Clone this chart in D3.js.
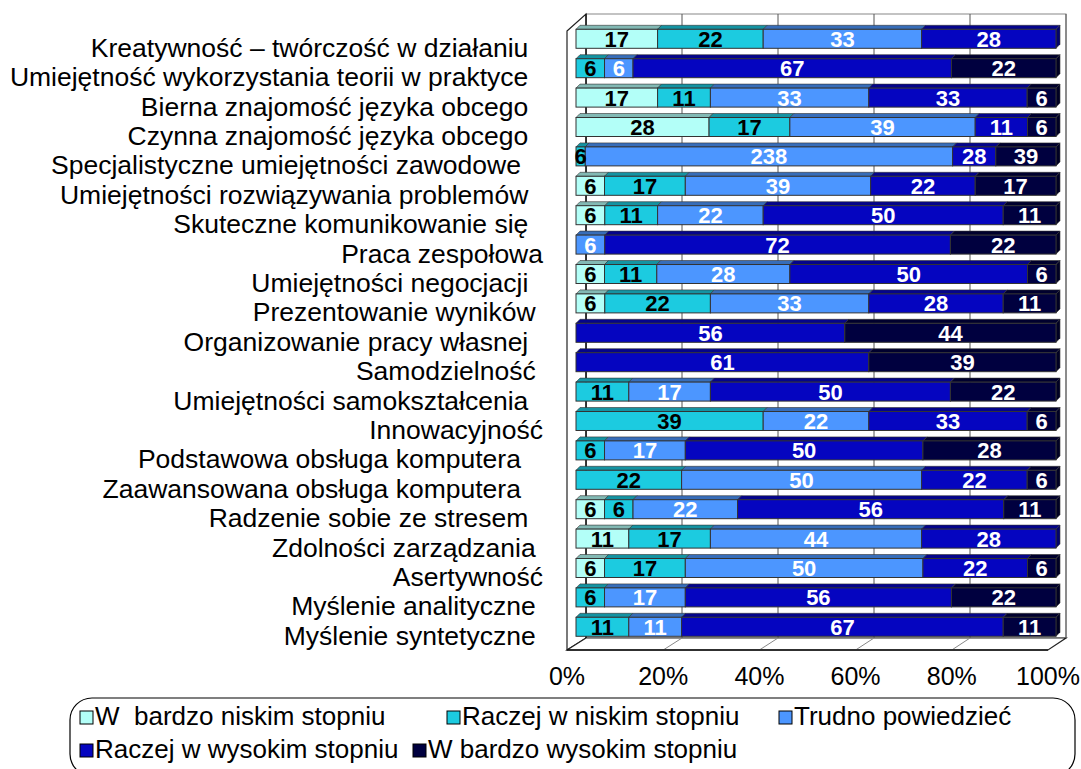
<!DOCTYPE html>
<html>
<head>
<meta charset="utf-8">
<script src="https://cdn.jsdelivr.net/npm/d3@7"></script>
<style>
  html, body { margin: 0; padding: 0; background: #fff; }
  svg { display: block; font-family: "Liberation Sans", Arial, sans-serif; }
  .cat { white-space: pre; }
</style>
</head>
<body>
<svg id="chart" width="1081" height="769"></svg>
<script>
// Skills, as written in the survey sheet (some names carry trailing spaces)
const categories = [
  "Kreatywność – twórczość w działaniu  ",
  "Umiejętność wykorzystania teorii w praktyce  ",
  "Bierna znajomość języka obcego  ",
  "Czynna znajomość języka obcego  ",
  "Specjalistyczne umiejętności zawodowe   ",
  "Umiejętności rozwiązywania problemów  ",
  "Skuteczne komunikowanie się  ",
  "Praca zespołowa",
  "Umiejętności negocjacji  ",
  "Prezentowanie wyników ",
  "Organizowanie pracy własnej  ",
  "Samodzielność ",
  "Umiejętności samokształcenia  ",
  "Innowacyjność",
  "Podstawowa obsługa komputera   ",
  "Zaawansowana obsługa komputera   ",
  "Radzenie sobie ze stresem  ",
  "Zdolności zarządzania ",
  "Asertywność",
  "Myślenie analityczne ",
  "Myślenie syntetyczne "
];

const seriesNames = [
  "W  bardzo niskim stopniu",
  "Raczej w niskim stopniu",
  "Trudno powiedzieć",
  "Raczej w wysokim stopniu",
  "W bardzo wysokim stopniu"
];

// Answers per skill, one array per answer level (same order as categories)
const veryLow  = [17, 0, 17, 28, 0, 6, 6, 0, 6, 6, 0, 0, 0, 0, 0, 0, 6, 11, 6, 0, 0];
const ratherLow = [22, 6, 11, 17, 6, 17, 11, 0, 11, 22, 0, 0, 11, 39, 6, 22, 6, 17, 17, 6, 11];
const hardToSay = [33, 6, 33, 39, 238, 39, 22, 6, 28, 33, 0, 0, 17, 22, 17, 50, 22, 44, 50, 17, 11];
const ratherHigh = [28, 67, 33, 11, 28, 22, 50, 72, 50, 28, 56, 61, 50, 33, 50, 22, 56, 28, 22, 56, 67];
const veryHigh = [0, 22, 6, 6, 39, 17, 11, 22, 6, 11, 44, 39, 22, 6, 28, 6, 11, 0, 6, 22, 11];

const tickLabels = ["0%", "20%", "40%", "60%", "80%", "100%"];

const fills  = ["#b3fff8", "#1ccbe0", "#4c96ff", "#0505c0", "#00003f"];
const labelColors = ["#000", "#000", "#fff", "#fff", "#fff"];

const seriesValues = [veryLow, ratherLow, hardToSay, ratherHigh, veryHigh];
const keys = d3.range(seriesNames.length);
const rows = categories.map((c, i) => {
  const r = { cat: c };
  keys.forEach(k => r[k] = seriesValues[k][i]);
  return r;
});

const stacked = d3.stack().keys(keys).offset(d3.stackOffsetExpand)(rows);

const svg = d3.select("#chart");

// 3D box: front floor edge, back wall and bar plane all share the same domain
const xFront = d3.scaleLinear().domain([0, 1]).range([567, 1048]);
const xBack  = d3.scaleLinear().domain([0, 1]).range([586, 1066]);
const xBar   = d3.scaleLinear().domain([0, 1]).range([576, 1056]);
const wallTop = 14, wallBottom = 638, floorFront = 650, leftWallTop = 31;
const depthX = 4, depthY = -4;

const y = d3.scaleBand().domain(categories).range([18.9, 646.7]).padding(0.354);

const ticks = d3.range(0, 1.0001, 0.2);

// back wall
svg.append("rect")
  .attr("x", xBack(0)).attr("y", wallTop)
  .attr("width", xBack(1) - xBack(0)).attr("height", wallBottom - wallTop)
  .attr("fill", "#fff").attr("stroke", "#888").attr("stroke-width", 1);

// left wall
svg.append("polygon")
  .attr("points", [[xFront(0), leftWallTop], [xBack(0), wallTop], [xBack(0), wallBottom], [xFront(0), floorFront]].join(" "))
  .attr("fill", "#fff").attr("stroke", "#222").attr("stroke-width", 1.2);

// floor
svg.append("polygon")
  .attr("points", [[xFront(0), floorFront], [xBack(0), wallBottom], [xBack(1), wallBottom], [xFront(1), floorFront]].join(" "))
  .attr("fill", "#fff").attr("stroke", "#222").attr("stroke-width", 1.2);

// gridlines on back wall and floor
svg.append("g").selectAll("line").data(ticks.slice(1)).join("line")
  .attr("x1", d => xBack(d)).attr("x2", d => xBack(d))
  .attr("y1", wallTop).attr("y2", wallBottom)
  .attr("stroke", "#555").attr("stroke-width", 1);
svg.append("g").selectAll("line").data(ticks.slice(1, -1)).join("line")
  .attr("x1", d => xFront(d)).attr("y1", floorFront)
  .attr("x2", d => xBack(d)).attr("y2", wallBottom)
  .attr("stroke", "#888").attr("stroke-width", 1);
svg.append("line")
  .attr("x1", xBack(0)).attr("x2", xBack(0)).attr("y1", wallTop).attr("y2", wallBottom)
  .attr("stroke", "#111").attr("stroke-width", 1.2);
svg.append("line")
  .attr("x1", xFront(0)).attr("x2", xFront(1)).attr("y1", floorFront).attr("y2", floorFront)
  .attr("stroke", "#111").attr("stroke-width", 1.5);

// bars
const shade = (c, k) => d3.color(c).darker(k).formatHex();
const bars = svg.append("g");
stacked.forEach((layer, k) => {
  layer.forEach((seg, i) => {
    const x0 = xBar(seg[0]), x1 = xBar(seg[1]);
    if (x1 - x0 <= 0) return;
    const yt = y(categories[i]), h = y.bandwidth();
    const g = bars.append("g");
    // top face
    g.append("polygon")
      .attr("points", [[x0, yt], [x0 + depthX, yt + depthY], [x1 + depthX, yt + depthY], [x1, yt]].join(" "))
      .attr("fill", shade(fills[k], 0.9)).attr("stroke", "#333").attr("stroke-width", 0.6);
    // side face on the right end of the bar
    if (seg[1] > 0.9999) {
      g.append("polygon")
        .attr("points", [[x1, yt], [x1 + depthX, yt + depthY], [x1 + depthX, yt + h + depthY], [x1, yt + h]].join(" "))
        .attr("fill", shade(fills[k], 1.6)).attr("stroke", "#333").attr("stroke-width", 0.6);
    }
    // front face
    g.append("rect")
      .attr("x", x0).attr("y", yt).attr("width", x1 - x0).attr("height", h)
      .attr("fill", fills[k]).attr("stroke", "#333").attr("stroke-width", 1);
  });
});

// value labels
const labels = svg.append("g")
  .attr("font-size", 22).attr("font-weight", "bold").attr("text-anchor", "middle");
stacked.forEach((layer, k) => {
  layer.forEach((seg, i) => {
    const v = seriesValues[k][i];
    if (!v) return;
    labels.append("text")
      .attr("x", (xBar(seg[0]) + xBar(seg[1])) / 2)
      .attr("y", y(categories[i]) + y.bandwidth() / 2 + 8)
      .attr("fill", labelColors[k])
      .text(v);
  });
});

// category labels
svg.append("g").attr("font-size", 26.5).attr("text-anchor", "end")
  .selectAll("text").data(categories).join("text")
  .attr("class", "cat")
  .attr("x", 543)
  .attr("y", d => y(d) + y.bandwidth() / 2 + 18)
  .attr("fill", "#000")
  .text(d => d);

// percentage axis
svg.append("g").attr("font-size", 25).attr("text-anchor", "middle")
  .selectAll("text").data(ticks).join("text")
  .attr("x", d => xFront(d))
  .attr("y", 685)
  .attr("fill", "#000")
  .text((d, i) => tickLabels[i]);

// legend
const legend = svg.append("g");
legend.append("rect")
  .attr("x", 70).attr("y", 698).attr("width", 1005).attr("height", 78).attr("rx", 22)
  .attr("fill", "#fff").attr("stroke", "#000").attr("stroke-width", 1.2);
const legendPos = [[80, 711], [447, 711], [779, 711], [80, 744], [413, 744]];
seriesNames.forEach((name, k) => {
  const [lx, ly] = legendPos[k];
  legend.append("rect")
    .attr("x", lx).attr("y", ly).attr("width", 13).attr("height", 13)
    .attr("fill", fills[k]).attr("stroke", "#000").attr("stroke-width", 1);
  legend.append("text")
    .attr("class", "cat")
    .attr("x", lx + 15).attr("y", ly + 14)
    .attr("font-size", 26).attr("fill", "#000")
    .text(name);
});
</script>
</body>
</html>
